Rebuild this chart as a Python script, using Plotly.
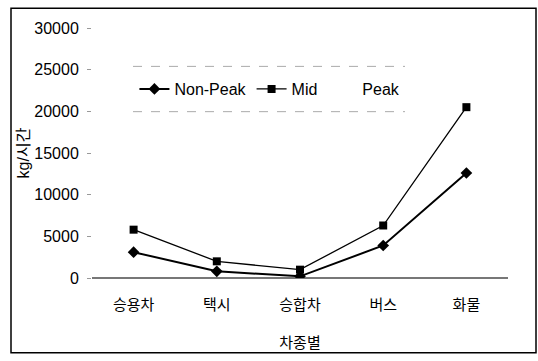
import plotly.graph_objects as go

categories = ["승용차", "택시", "승합차", "버스", "화물"]
non_peak = [3100, 800, 200, 3900, 12600]
mid = [5800, 2000, 1000, 6300, 20500]
peak = [4500, 1400, 600, 5000, 16500]
y_ticks = [0, 5000, 10000, 15000, 20000, 25000, 30000]
y_tick_labels = ["0", "5000", "10000", "15000", "20000", "25000", "30000"]

FONT = "Liberation Sans, Arial, Noto Sans CJK KR, sans-serif"

fig = go.Figure()
fig.add_trace(go.Scatter(x=categories, y=peak, name="Peak", mode="lines+markers",
                         line=dict(color="rgba(0,0,0,0)", width=1.5),
                         marker=dict(symbol="triangle-up", size=7, color="rgba(0,0,0,0)"),
                         legendrank=3))
fig.add_trace(go.Scatter(x=categories, y=non_peak, name="Non-Peak", mode="lines+markers",
                         line=dict(color="black", width=2),
                         marker=dict(symbol="diamond", size=9, color="black"),
                         legendrank=1))
fig.add_trace(go.Scatter(x=categories, y=mid, name="Mid", mode="lines+markers",
                         line=dict(color="black", width=1.3),
                         marker=dict(symbol="square", size=8, color="black"),
                         legendrank=2))

fig.update_layout(
    width=538, height=361,
    margin=dict(l=92, r=30, t=28, b=79),
    paper_bgcolor="white", plot_bgcolor="white",
    font=dict(family=FONT, size=16, color="black"),
    showlegend=True,
    legend=dict(orientation="h", x=0.102, y=0.756, xanchor="left", yanchor="middle",
                bgcolor="rgba(0,0,0,0)", font=dict(size=16), itemwidth=30,
                traceorder="normal"),
    xaxis=dict(type="category", range=[-0.5, 4.5], showgrid=False, showline=False,
               zeroline=False, ticks="", ticklabelstandoff=16,
               tickfont=dict(size=15, family="Noto Sans CJK KR"),
               title=dict(text="차종별", font=dict(size=15, family="Noto Sans CJK KR"), standoff=24)),
    yaxis=dict(range=[0, 30000], tickvals=y_ticks, ticktext=y_tick_labels,
               showgrid=False, showline=False,
               zeroline=True, zerolinecolor="#777", zerolinewidth=1.5,
               ticks="outside", ticklen=4, tickcolor="#999", tickwidth=1,
               tickfont=dict(size=16), ticklabelstandoff=5,
               title=dict(text="kg/시간", font=dict(size=16), standoff=0)),
)

# chart frame
fig.add_shape(type="rect", xref="paper", yref="paper",
              x0=(11 - 92) / 416, x1=(536 - 92) / 416,
              y0=(282 - 358) / 254, y1=(282 - 8) / 254,
              line=dict(color="black", width=1.5))
# legend box top/bottom faint dashed borders
for yy in (67, 113):
    fig.add_shape(type="line", xref="paper", yref="paper",
                  x0=(133 - 92) / 416, x1=(405 - 92) / 416,
                  y0=(282 - yy) / 254, y1=(282 - yy) / 254,
                  line=dict(color="#aaa", width=1, dash="dash"))

fig.write_html("out.html", config={"displayModeBar": False},
               post_script="document.body.style.margin='0';document.body.style.overflow='hidden';")
